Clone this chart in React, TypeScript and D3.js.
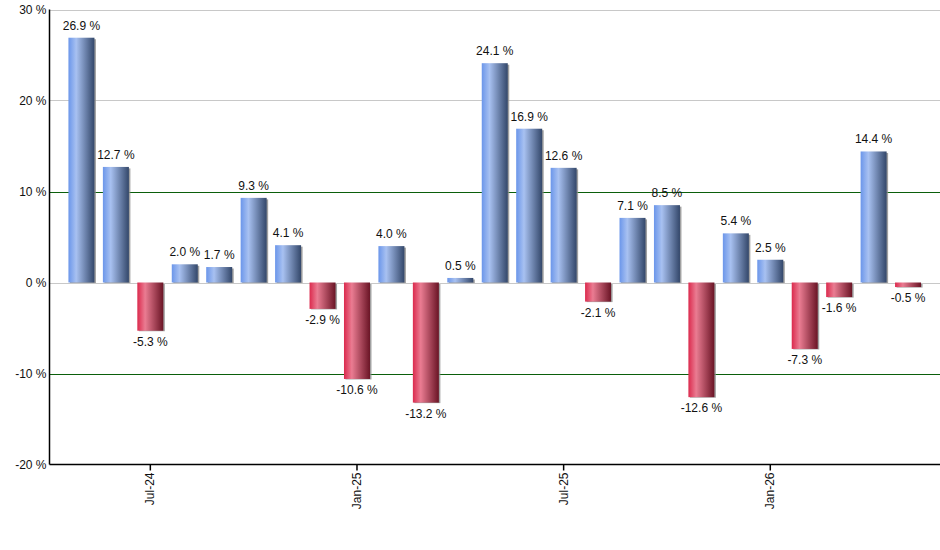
import React from "react";
import * as d3 from "d3";

const months = [
  "May-24","Jun-24","Jul-24","Aug-24","Sep-24","Oct-24","Nov-24","Dec-24",
  "Jan-25","Feb-25","Mar-25","Apr-25","May-25","Jun-25","Jul-25","Aug-25",
  "Sep-25","Oct-25","Nov-25","Dec-25","Jan-26","Feb-26","Mar-26","Apr-26","May-26",
];
const values = [
  26.9, 12.7, -5.3, 2.0, 1.7, 9.3, 4.1, -2.9, -10.6, 4.0, -13.2, 0.5,
  24.1, 16.9, 12.6, -2.1, 7.1, 8.5, -12.6, 5.4, 2.5, -7.3, -1.6, 14.4, -0.5,
];
const xTickLabels = ["Jul-24", "Jan-25", "Jul-25", "Jan-26"];
const yTicks = [-20, -10, 0, 10, 20, 30];

const W = 940, H = 550;
const L = 49.5, R = 940, T = 9.5, B = 464.5;

export default function App() {
  const x = d3.scaleBand<string>().domain(months).range([L, R]).paddingInner(0.245).paddingOuter(0.55);
  const y = d3.scaleLinear().domain([-20, 30]).range([B, T]);
  const font = "'Liberation Sans', Arial, sans-serif";
  return (
    <svg width={W} height={H} style={{ position: "absolute", left: 0, top: 0, background: "#fff" }} fontFamily={font}>
      <defs>
        <linearGradient id="gBlue" x1="0" x2="1" y1="0" y2="0">
          <stop offset="0" stopColor="#6b96ea" />
          <stop offset="0.3" stopColor="#a8c1f1" />
          <stop offset="1" stopColor="#33476a" />
        </linearGradient>
        <linearGradient id="gRed" x1="0" x2="1" y1="0" y2="0">
          <stop offset="0" stopColor="#db2a4d" />
          <stop offset="0.3" stopColor="#ea7c92" />
          <stop offset="1" stopColor="#6a1425" />
        </linearGradient>
      </defs>
      {yTicks.filter(t => t !== -20).map(t => (
        <line key={t} x1={L} x2={R} y1={Math.round(y(t)) + 0.5} y2={Math.round(y(t)) + 0.5}
          stroke={Math.abs(t) === 10 ? "#0b5f0b" : "#c8c8c8"} strokeWidth={1} />
      ))}
      {values.map((v, i) => {
        const bx = x(months[i])!;
        const bw = x.bandwidth();
        const y0 = y(0), y1 = y(v);
        const top = Math.min(y0, y1), h = Math.abs(y1 - y0);
        return (
          <g key={i}>
            <rect x={bx + 1.5} y={top + 1.5} width={bw} height={Math.max(0, h - 1)} fill="#8a8a8a" opacity={0.8} />
            <rect x={bx} y={top} width={bw} height={h} fill={v >= 0 ? "url(#gBlue)" : "url(#gRed)"} />
            <text x={bx + bw / 2} y={v >= 0 ? y1 - 8 : y1 + 15} textAnchor="middle" fontSize={12} fill="#111">
              {v.toFixed(1)} %
            </text>
          </g>
        );
      })}
      <line x1={L} x2={L} y1={T} y2={B} stroke="#000" strokeWidth={1.5} />
      <line x1={L} x2={R} y1={B} y2={B} stroke="#000" strokeWidth={1.5} />
      {yTicks.map(t => (
        <text key={t} x={L - 3} y={y(t) + 4} textAnchor="end" fontSize={12} fill="#111">{t} %</text>
      ))}
      {xTickLabels.map(m => {
        const cx = x(m)! + x.bandwidth() / 2;
        return (
          <g key={m}>
            <line x1={cx} x2={cx} y1={B} y2={B + 6} stroke="#000" strokeWidth={1.5} />
            <text transform={`translate(${cx + 4},${B + 8}) rotate(-90)`} textAnchor="end" fontSize={12} fill="#111">{m}</text>
          </g>
        );
      })}
    </svg>
  );
}
